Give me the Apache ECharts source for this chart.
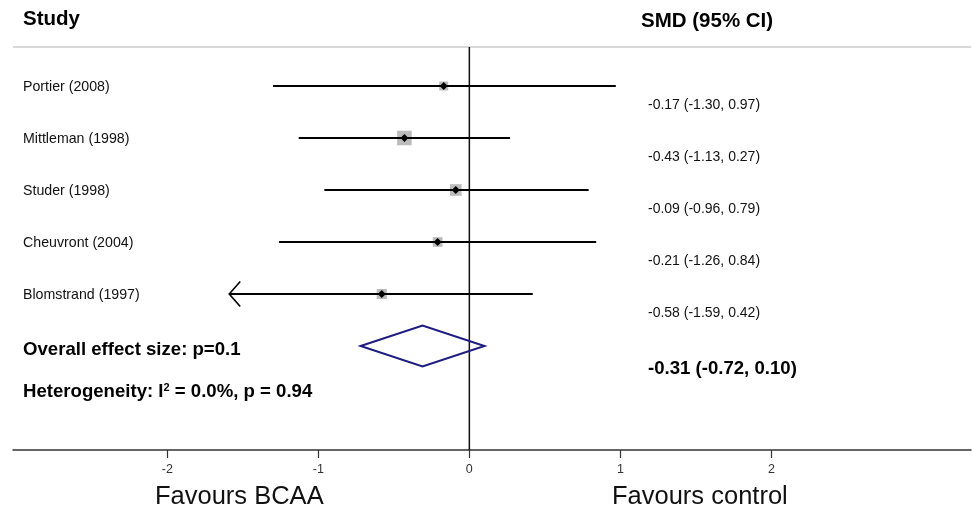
<!DOCTYPE html>
<html>
<head>
<meta charset="utf-8">
<script src="https://cdn.jsdelivr.net/npm/echarts@6/dist/echarts.min.js"></script>
<style>
  html, body { margin: 0; padding: 0; background: #fff; }
  #chart { width: 972px; height: 509px; }
</style>
</head>
<body>
<div id="chart"></div>
<script>
// Studies included in the meta-analysis (standardised mean difference, 95% CI)
const studies = ['Portier (2008)', 'Mittleman (1998)', 'Studer (1998)', 'Cheuvront (2004)', 'Blomstrand (1997)'];
const smd = [-0.17, -0.43, -0.09, -0.21, -0.58];
const ciLow = [-1.30, -1.13, -0.96, -1.26, -1.59];
const ciHigh = [0.97, 0.27, 0.79, 0.84, 0.42];

// Pooled estimate
const pooled = { smd: -0.31, low: -0.72, high: 0.10 };
const overallText = 'Overall effect size: p=0.1';
const heteroText = 'Heterogeneity: I{sup|2} = 0.0%, p = 0.94';

// Axis ticks
const tickValues = [-2, -1, 0, 1, 2];

const FONT = '"Liberation Sans", Arial, sans-serif';
const fmt = v => v.toFixed(2);

// Inverse-variance weights, used for the size of each study's square
const weights = ciLow.map((lo, i) => {
  const se = (ciHigh[i] - lo) / 3.92;
  return 1 / (se * se);
});

const clipLow = -1.5; // CIs reaching below this get an arrow head

const rows = studies.map((s, i) => [smd[i], i, ciLow[i], ciHigh[i], weights[i]]);
const chart = echarts.init(document.getElementById('chart'), null, { renderer: 'canvas' });

chart.setOption({
  animation: false,
  backgroundColor: '#fff',
  grid: { left: 13, right: 1, top: 47, bottom: 59, containLabel: false },
  xAxis: {
    type: 'value',
    min: -3.022,
    max: 3.322,
    splitLine: { show: false },
    axisLine: { show: true, onZero: false, lineStyle: { color: '#333', width: 1.5 } },
    axisTick: { show: true, customValues: tickValues, length: 8, lineStyle: { color: '#333', width: 1.2 } },
    axisLabel: { show: true, customValues: tickValues, color: '#333', fontSize: 12.5, fontFamily: FONT, margin: 13 }
  },
  yAxis: {
    type: 'value',
    inverse: true,
    min: -0.75,
    max: 7,
    show: false
  },
  series: [
    // Header rule
    {
      type: 'custom',
      silent: true,
      data: [0],
      renderItem: (params, api) => {
        const cs = params.coordSys;
        return {
          type: 'line',
          shape: { x1: cs.x, y1: cs.y, x2: cs.x + cs.width, y2: cs.y },
          style: { stroke: '#d8d8d8', lineWidth: 2 }
        };
      }
    },
    // Line of no effect
    {
      type: 'custom',
      silent: true,
      data: [[0]],
      renderItem: (params, api) => {
        const cs = params.coordSys;
        const x = api.coord([0, 0])[0];
        return {
          type: 'line',
          shape: { x1: x, y1: cs.y, x2: x, y2: cs.y + cs.height },
          style: { stroke: '#111', lineWidth: 1.5 }
        };
      }
    },
    // Study estimates: CI line, weighted square, point marker, value text, name
    {
      type: 'custom',
      silent: true,
      data: rows,
      renderItem: (params, api) => {
        const i = params.dataIndex;
        const cs = params.coordSys;
        const est = api.value(0), idx = api.value(1), lo = api.value(2), hi = api.value(3), w = api.value(4);
        const pEst = api.coord([est, idx]);
        const pLo = api.coord([lo, idx]);
        const pHi = api.coord([hi, idx]);
        const sq = 5.2 * Math.sqrt(w);
        const d = 4;
        const children = [
          {
            type: 'rect',
            shape: { x: pEst[0] - sq / 2, y: pEst[1] - sq / 2, width: sq, height: sq },
            style: { fill: '#bcbcbc' }
          },
          {
            type: 'line',
            shape: { x1: pLo[0], y1: pLo[1], x2: pHi[0], y2: pHi[1] },
            style: { stroke: '#000', lineWidth: 2 }
          },
          {
            type: 'polygon',
            shape: { points: [[pEst[0] - d, pEst[1]], [pEst[0], pEst[1] - d], [pEst[0] + d, pEst[1]], [pEst[0], pEst[1] + d]] },
            style: { fill: '#000' }
          },
          {
            type: 'text',
            style: {
              x: cs.x + 10, y: pEst[1] + 1, text: studies[i],
              fill: '#111', fontSize: 14.2, fontFamily: FONT,
              align: 'left', verticalAlign: 'middle'
            }
          },
          {
            type: 'text',
            style: {
              x: 648, y: pEst[1] + 19,
              text: fmt(est) + ' (' + fmt(lo) + ', ' + fmt(hi) + ')',
              fill: '#111', fontSize: 14, fontFamily: FONT,
              align: 'left', verticalAlign: 'middle'
            }
          }
        ];
        if (lo < clipLow) {
          children.push({
            type: 'polyline',
            shape: { points: [[pLo[0] + 11, pLo[1] - 12.5], [pLo[0], pLo[1]], [pLo[0] + 11, pLo[1] + 12.5]] },
            style: { stroke: '#000', lineWidth: 1.6, fill: null }
          });
        }
        return { type: 'group', children };
      }
    },
    // Pooled effect diamond and summary texts
    {
      type: 'custom',
      silent: true,
      data: [[pooled.smd, studies.length, pooled.low, pooled.high]],
      renderItem: (params, api) => {
        const cs = params.coordSys;
        const row = api.value(1);
        const c = api.coord([api.value(0), row]);
        const l = api.coord([api.value(2), row]);
        const r = api.coord([api.value(3), row]);
        const h = 20.5;
        return {
          type: 'group',
          children: [
            {
              type: 'polygon',
              shape: { points: [[l[0], c[1]], [c[0], c[1] - h], [r[0], c[1]], [c[0], c[1] + h]] },
              style: { stroke: '#1c1c80', lineWidth: 2, fill: null }
            },
            {
              type: 'text',
              style: {
                x: cs.x + 10, y: c[1] + 4, text: overallText,
                fill: '#000', fontSize: 18.6, fontWeight: 'bold', fontFamily: FONT,
                align: 'left', verticalAlign: 'middle'
              }
            },
            {
              type: 'text',
              style: {
                x: cs.x + 10, y: c[1] + 46, text: heteroText,
                fill: '#000', fontSize: 18.6, fontWeight: 'bold', fontFamily: FONT,
                align: 'left', verticalAlign: 'middle',
                rich: {
                  sup: { fontSize: 11, fontWeight: 'bold', fontFamily: FONT, fill: '#000', verticalAlign: 'top', padding: [0, 0, 9, 0] }
                }
              }
            },
            {
              type: 'text',
              style: {
                x: 648, y: c[1] + 23,
                text: fmt(api.value(0)) + ' (' + fmt(api.value(2)) + ', ' + fmt(api.value(3)) + ')',
                fill: '#000', fontSize: 18.6, fontWeight: 'bold', fontFamily: FONT,
                align: 'left', verticalAlign: 'middle'
              }
            }
          ]
        };
      }
    }
  ],
  graphic: [
    {
      type: 'text', left: 23, top: 9,
      style: { text: 'Study', fill: '#000', fontSize: 20.5, fontWeight: 'bold', fontFamily: FONT }
    },
    {
      type: 'text', left: 641, top: 11,
      style: { text: 'SMD (95% CI)', fill: '#000', fontSize: 20.5, fontWeight: 'bold', fontFamily: FONT }
    },
    {
      type: 'text', left: 155, top: 484,
      style: { text: 'Favours BCAA', fill: '#111', fontSize: 25.5, fontFamily: FONT }
    },
    {
      type: 'text', left: 612, top: 484,
      style: { text: 'Favours control', fill: '#111', fontSize: 25.5, fontFamily: FONT }
    }
  ]
});
</script>
</body>
</html>
